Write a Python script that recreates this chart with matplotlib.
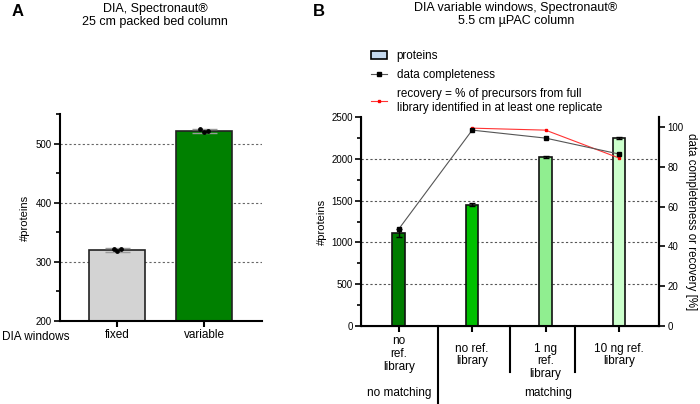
import matplotlib
matplotlib.use("Agg")
import matplotlib.pyplot as plt
import matplotlib.transforms as mtransforms
from matplotlib.patches import Patch
from matplotlib.lines import Line2D
import numpy as np

plt.rcParams['font.family'] = ['Liberation Sans', 'DejaVu Sans']

# ---------------- data ----------------
a_categories = ["fixed", "variable"]
a_means = [320, 521]
a_errors = [3, 3]
a_replicates = [[322, 318, 321], [524, 519, 522]]
a_colors = ["#d3d3d3", "#008000"]

b_categories = ["no\nref.\nlibrary", "no ref.\nlibrary", "1 ng\nref.\nlibrary", "10 ng ref.\nlibrary"]
b_proteins = [1110, 1451, 2022, 2250]
b_protein_err = [45, 15, 12, 15]
b_colors = ["#007c00", "#00c000", "#90ee90", "#ccffcc"]
b_completeness = [48.7, 98.4, 94.4, 86.4]
b_recovery_x = [1, 2, 3]
b_recovery = [99.4, 98.4, 84.4]
b_groups = ["no matching", "matching"]

fig = plt.figure(figsize=(7.0, 4.04), dpi=100)

# ---------------- panel A ----------------
axA = fig.add_axes([60/700, 1-321/404, 202/700, 207/404])
xa = np.arange(len(a_categories))
for v in [300, 400, 500]:
    axA.axhline(v, color='#666666', lw=0.8, ls=(0, (2, 2)), zorder=0)
axA.bar(xa, a_means, width=0.64, color=a_colors, edgecolor='#222222', lw=1.2, zorder=2)
axA.errorbar(xa, a_means, yerr=a_errors, fmt='none', ecolor='#999999', capsize=9, elinewidth=1, capthick=1, zorder=3)
for i, reps in enumerate(a_replicates):
    axA.scatter([xa[i] - 0.04, xa[i], xa[i] + 0.05], reps, s=6, color='black', zorder=4)
axA.set_xlim(-0.655, 1.667)
axA.set_ylim(200, 550)
axA.set_yticks([200, 300, 400, 500])
axA.set_yticks([250, 350, 450, 550], minor=True)
axA.set_xticks(xa)
axA.set_xticklabels(a_categories, fontsize=8.5)
axA.tick_params(axis='y', labelsize=7, length=4, width=1.2, pad=2)
axA.tick_params(axis='y', which='minor', length=3, width=1.2)
axA.tick_params(axis='x', length=4, width=1.5, pad=2)
for s in ['top', 'right']:
    axA.spines[s].set_visible(False)
for s in ['left', 'bottom']:
    axA.spines[s].set_linewidth(1.5)
axA.set_ylabel("#proteins", fontsize=8, labelpad=4)
fig.text(2/700, 1-337/404, "DIA windows", fontsize=8.5, va='center', ha='left')
fig.text(155/700, 1-3/404, "DIA, Spectronaut®\n25 cm packed bed column", fontsize=9,
         ha='center', va='top', linespacing=1.15)
fig.text(12/700, 1-12/404, "A", fontsize=12, fontweight='bold', va='center', ha='left')

# ---------------- panel B ----------------
axB = fig.add_axes([361/700, 1-326/404, 298/700, 209/404])
xb = np.arange(len(b_categories))
for v in [500, 1000, 1500, 2000]:
    axB.axhline(v, color='#555555', lw=0.8, ls=(0, (2, 2)), zorder=0)
axB.bar(xb, b_proteins, width=0.17, color=b_colors, edgecolor='#111111', lw=1.2, zorder=2)
axB.errorbar(xb, b_proteins, yerr=b_protein_err, fmt='none', ecolor='black', capsize=2, elinewidth=1, capthick=1, zorder=3)
axB.set_xlim(-0.514, 3.545)
axB.set_ylim(0, 2500)
axB.set_yticks([0, 500, 1000, 1500, 2000, 2500])
axB.set_yticks(np.arange(250, 2500, 500), minor=True)
axB.set_xticks(xb)
axB.set_xticklabels([])
axB.tick_params(axis='y', labelsize=7, length=4, width=1.2, pad=2)
axB.tick_params(axis='y', which='minor', length=3, width=1.2)
axB.tick_params(axis='x', length=4, width=1.5)
axB.spines['top'].set_visible(False)
for s in ['left', 'bottom', 'right']:
    axB.spines[s].set_linewidth(1.5)
axB.set_ylabel("#proteins", fontsize=8, labelpad=3)

ax2 = axB.twinx()
ax2.set_ylim(0, 105)
ax2.set_yticks([0, 20, 40, 60, 80, 100])
ax2.tick_params(axis='y', labelsize=7, length=4, width=1.2, pad=2)
ax2.spines['top'].set_visible(False)
ax2.spines['right'].set_linewidth(1.5)
ax2.plot(xb, b_completeness, color='#555555', lw=0.8, marker='s', ms=2.8,
         mfc='black', mec='black', zorder=5)
ax2.plot(b_recovery_x, b_recovery, color='#ff3333', lw=0.8, marker='s', ms=2.0,
         mfc='red', mec='red', zorder=4)
ax2.set_ylabel("data completeness or recovery [%]", fontsize=8.3, rotation=270, labelpad=10)

# category labels and separators below axis
trans = mtransforms.blended_transform_factory(axB.transData, axB.transAxes)
label_tops = [-0.045, -0.079, -0.079, -0.079]
for i, lab in enumerate(b_categories):
    axB.text(xb[i], label_tops[i], lab, transform=trans, ha='center', va='top',
             fontsize=8.5, linespacing=1.1)
sep_x = [0.535, 1.517, 2.40]
sep_len = [-0.368, -0.22, -0.22]
for sx, sl in zip(sep_x, sep_len):
    axB.plot([sx, sx], [0, sl], transform=trans, color='black', lw=1.5, clip_on=False)
axB.text(0, -0.32, b_groups[0], transform=trans, ha='center', va='center', fontsize=8.5)
axB.text(2.03, -0.32, b_groups[1], transform=trans, ha='center', va='center', fontsize=8.5)

fig.text(516/700, 1-2/404, "DIA variable windows, Spectronaut®\n5.5 cm µPAC column", fontsize=9,
         ha='center', va='top', linespacing=1.15)
fig.text(313/700, 1-12/404, "B", fontsize=12, fontweight='bold', va='center', ha='left')

handles = [Patch(facecolor='#c5d9ee', edgecolor='black', lw=1.2),
           Line2D([], [], color='#555555', lw=0.8, marker='s', ms=2.8, mfc='black', mec='black'),
           Line2D([], [], color='#ff3333', lw=0.8, marker='s', ms=2.0, mfc='red', mec='red')]
labels = ["proteins", "data completeness",
          "recovery = % of precursors from full\nlibrary identified in at least one replicate"]
fig.legend(handles, labels, loc='upper left', bbox_to_anchor=(371/700, 1-50/404),
           frameon=False, fontsize=8.4, handlelength=1.4, handleheight=0.6,
           handletextpad=0.8, labelspacing=0.6, borderaxespad=0, borderpad=0)

fig.savefig("out.png", dpi=100)
